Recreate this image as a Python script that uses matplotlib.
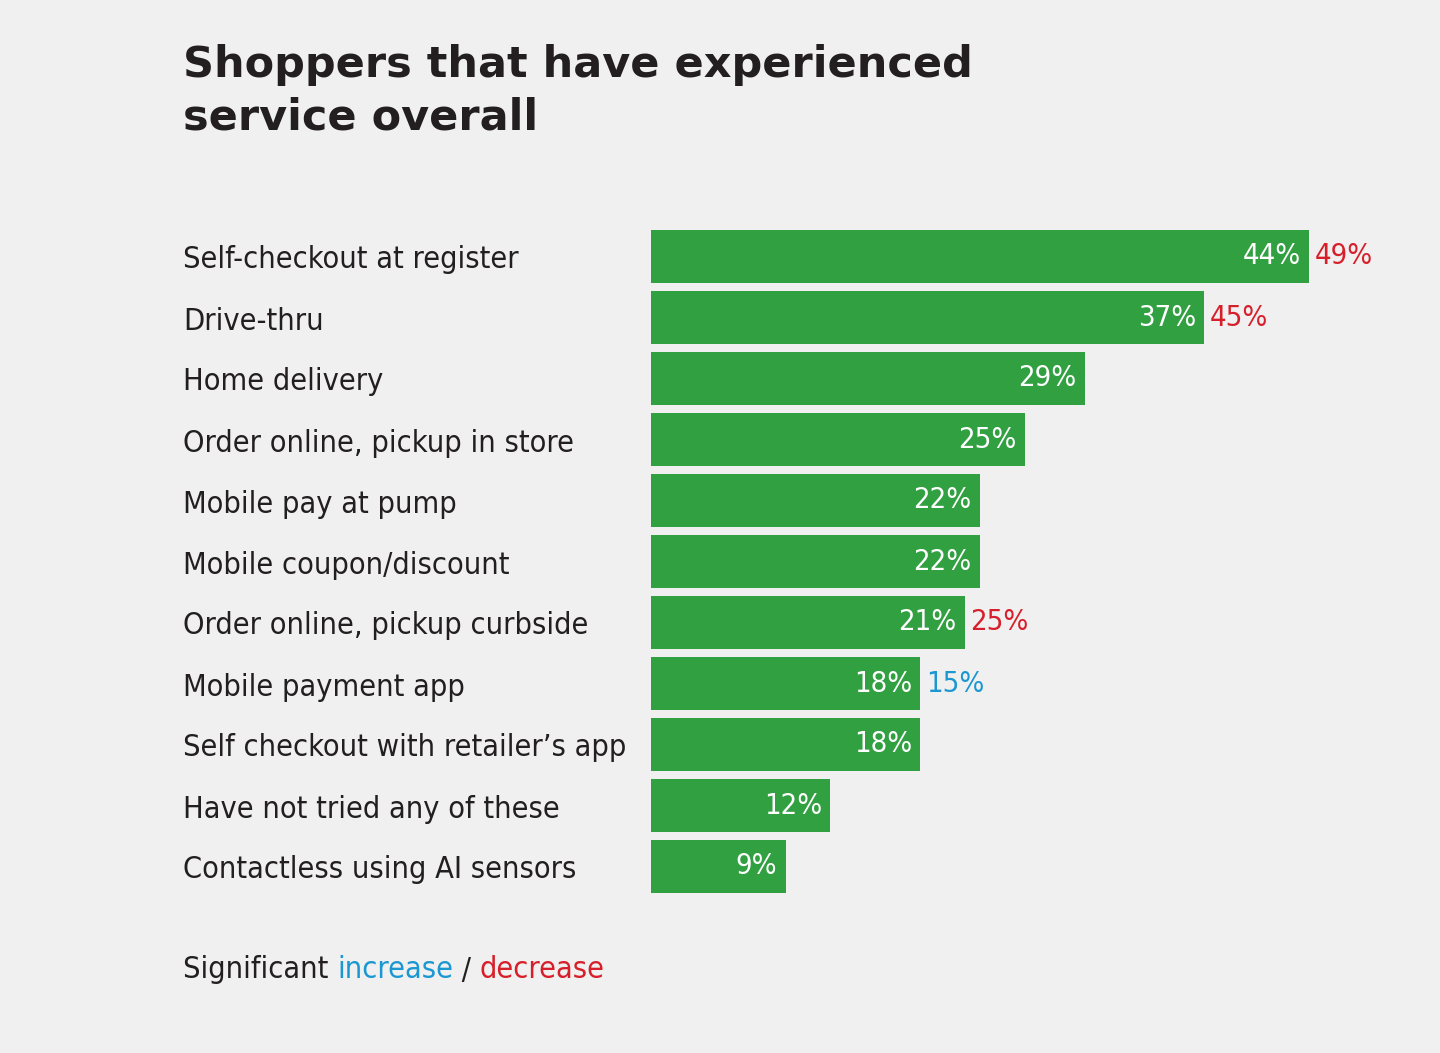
import matplotlib
matplotlib.use("Agg")
import matplotlib.pyplot as plt
from matplotlib import font_manager

categories = [
    "Self-checkout at register",
    "Drive-thru",
    "Home delivery",
    "Order online, pickup in store",
    "Mobile pay at pump",
    "Mobile coupon/discount",
    "Order online, pickup curbside",
    "Mobile payment app",
    "Self checkout with retailer\u2019s app",
    "Have not tried any of these",
    "Contactless using AI sensors",
]
values = [44, 37, 29, 25, 22, 22, 21, 18, 18, 12, 9]
previous = [49, 45, None, None, None, None, 25, 15, None, None, None]

BG = "#eff0ef"
GREEN = "#31a041"
RED = "#d71f2b"
BLUE = "#1b97d2"
DARK = "#231f20"

names = {f.name for f in font_manager.fontManager.ttflist}
narrow = "Liberation Sans Narrow" if "Liberation Sans Narrow" in names else "DejaVu Sans"
cond = [narrow, "DejaVu Sans"]

W, H = 1440, 1053
fig = plt.figure(figsize=(W / 100, H / 100), dpi=100, facecolor=BG)

# axes in pixel layout: x=0 at 651px, 14.95px per percent
x0 = 651
ppp = 14.95
top, bottom = 226, 897
ax = fig.add_axes([x0 / W, 1 - bottom / H, (W - x0) / W, (bottom - top) / H])
ax.set_facecolor(BG)
ax.set_xlim(0, (W - x0) / ppp)
ax.set_ylim(len(categories) - 0.5, -0.5)
ax.axis("off")

ys = list(range(len(categories)))
ax.barh(ys, values, height=0.87, color=GREEN)

for y, v, p in zip(ys, values, previous):
    ax.annotate(f"{v}%", (v, y), xytext=(-6, 0), textcoords="offset points",
                ha="right", va="center", color="white", fontsize=21,
                family=cond, stretch="condensed")
    if p is not None:
        c = BLUE if v > p else RED
        ax.annotate(f"{p}%", (v, y), xytext=(4, 0), textcoords="offset points",
                    ha="left", va="center", color=c, fontsize=21,
                    family=cond, stretch="condensed")

for y, name in zip(ys, categories):
    fig.text(183 / W, 1 - (260 + 61 * y) / H, name, ha="left", va="center",
             fontsize=22, color=DARK, family=cond, stretch="condensed")

fig.text(183 / W, 1 - 44 / H, "Shoppers that have experienced\nservice overall",
         ha="left", va="top", fontsize=31, fontweight="bold", color=DARK,
         linespacing=1.33)

# legend line built from pieces
renderer = fig.canvas.get_renderer()
xpos = 183
for txt, c in [("Significant ", DARK), ("increase", BLUE), (" / ", DARK), ("decrease", RED)]:
    t = fig.text(xpos / W, 1 - 970 / H, txt, ha="left", va="center",
                 fontsize=22, color=c, family=cond, stretch="condensed")
    xpos += t.get_window_extent(renderer).width

fig.savefig("out.png", dpi=100, facecolor=BG)
